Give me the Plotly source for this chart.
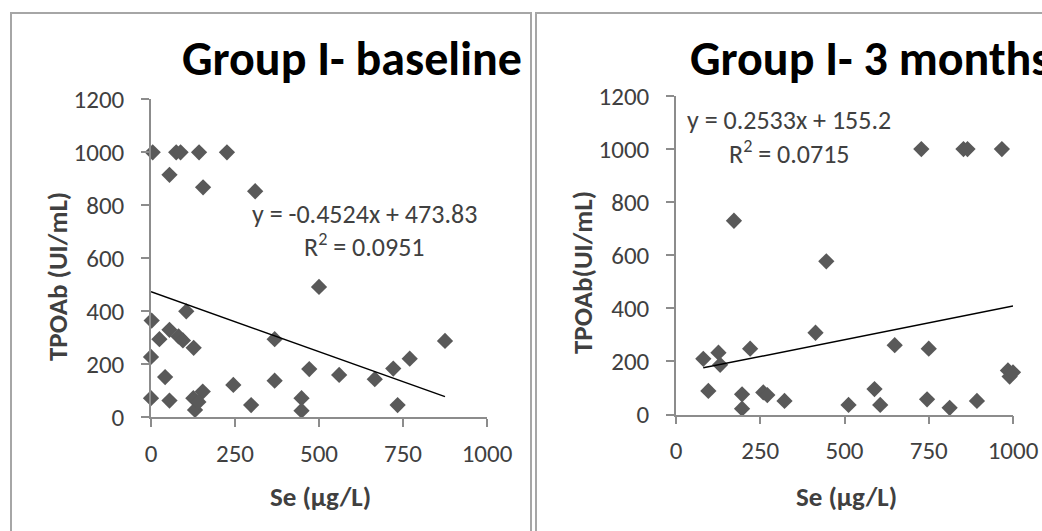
import plotly.graph_objects as go

W, H = 1042, 531

# ---------------- data ----------------
base_se = [5, 75, 88, 143, 226, 55, 155, 310, 500, 105, 2,
           25, 55, 82, 95, 127, 0, 42, 0, 55,
           126, 154, 131, 141,
           245, 298, 368, 368, 448, 448, 471, 560, 666, 721, 770, 734, 875]
base_tpo = [1000, 1000, 1000, 1000, 1000, 915, 868, 853, 492, 400, 365,
            295, 330, 305, 290, 262, 228, 152, 72, 63,
            72, 97, 28, 58,
            122, 46, 295, 138, 72, 25, 182, 160, 144, 184, 221, 46, 288]

m3_se = [81, 126, 131, 96, 172, 220, 196, 196, 259, 271, 322, 414, 446, 512,
         589, 606, 649, 728, 745, 750, 812, 853, 865, 893, 967, 985, 990, 1000]
m3_tpo = [210, 233, 187, 89, 730, 248, 76, 22, 83, 73, 51, 308, 577, 36,
          96, 36, 261, 1000, 57, 248, 25, 1000, 1000, 51, 1000, 166, 143, 159]

base_fit = (-0.4524, 473.83)
m3_fit = (0.2533, 155.2)

titles = ["Group I- baseline", "Group I- 3 months"]
eq_texts = ["y = -0.4524x + 473.83", "y = 0.2533x + 155.2"]
r2_texts = ["R<sup>2</sup> = 0.0951", "R<sup>2</sup> = 0.0715"]
y_titles = ["TPOAb (UI/mL)", "TPOAb(UI/mL)"]
x_title = "Se (µg/L)"
x_ticks = [0, 250, 500, 750, 1000]
y_ticks = [0, 200, 400, 600, 800, 1000, 1200]

FONT = "Calibri, Carlito, Lato, sans-serif"
MARK = "#595959"
AXC = "#8c8c8c"
TXT = "#404040"


def px(x):
    return x / W


def py(y):
    return 1 - y / H


fig = go.Figure()

panels = [
    dict(se=base_se, tpo=base_tpo, fit=base_fit, xd=(151, 487), yd=(417.3, 99.3), xa="x", ya="y"),
    dict(se=m3_se, tpo=m3_tpo, fit=m3_fit, xd=(676, 1013), yd=(414.5, 96), xa="x2", ya="y2"),
]

for p in panels:
    fig.add_trace(go.Scatter(
        x=p["se"], y=p["tpo"], mode="markers", xaxis=p["xa"], yaxis=p["ya"],
        marker=dict(symbol="diamond", size=12.5, color=MARK, line=dict(width=0)),
        cliponaxis=False, hoverinfo="skip"))
    a, b = p["fit"]
    xs = [min(p["se"]), max(p["se"])]
    fig.add_trace(go.Scatter(
        x=xs, y=[a * v + b for v in xs], mode="lines", xaxis=p["xa"], yaxis=p["ya"],
        line=dict(color="black", width=1.5), cliponaxis=False, hoverinfo="skip"))

axis_common = dict(showgrid=False, zeroline=False, showline=True, linecolor=AXC, linewidth=1.5,
                   ticks="outside", ticklen=8, tickwidth=1.5, tickcolor=AXC, automargin=False,
                   tickfont=dict(family=FONT, size=25, color=TXT), fixedrange=True)

layout = dict(width=W, height=H, margin=dict(l=0, r=0, t=0, b=0, pad=0, autoexpand=False),
              paper_bgcolor="white", plot_bgcolor="white", showlegend=False)

for i, p in enumerate(panels):
    sx = "" if i == 0 else "2"
    layout["xaxis" + sx] = dict(axis_common, domain=[px(p["xd"][0]), px(p["xd"][1])],
                                range=[0, 1000], tickvals=x_ticks, anchor="y" + sx,
                                ticklabelstandoff=5)
    layout["yaxis" + sx] = dict(axis_common, domain=[py(p["yd"][0]), py(p["yd"][1])],
                                range=[0, 1200], tickvals=y_ticks, anchor="x" + sx,
                                ticklabelstandoff=12)

fig.update_layout(**layout)

# frames
fig.add_shape(type="rect", xref="paper", yref="paper", x0=px(11), x1=px(531), y0=py(560), y1=py(13),
              line=dict(color="#a6a6a6", width=2), layer="below")
fig.add_shape(type="rect", xref="paper", yref="paper", x0=px(536), x1=px(1080), y0=py(560), y1=py(13),
              line=dict(color="#a6a6a6", width=2), layer="below")

ann = []
# titles
ann.append(dict(text="<b>" + titles[0] + "</b>", x=px(352), y=py(58), xanchor="center", yanchor="middle",
                font=dict(family=FONT, size=48, color="black")))
ann.append(dict(text="<b>" + titles[1] + "</b>", x=px(870), y=py(58), xanchor="center", yanchor="middle",
                font=dict(family=FONT, size=48, color="black")))
# equations
ann.append(dict(text=eq_texts[0], x=px(364), y=py(214), xanchor="center", yanchor="middle",
                font=dict(family=FONT, size=26, color=TXT)))
ann.append(dict(text=r2_texts[0], x=px(364), y=py(246), xanchor="center", yanchor="middle",
                font=dict(family=FONT, size=26, color=TXT)))
ann.append(dict(text=eq_texts[1], x=px(789), y=py(120), xanchor="center", yanchor="middle",
                font=dict(family=FONT, size=26, color=TXT)))
ann.append(dict(text=r2_texts[1], x=px(789), y=py(152), xanchor="center", yanchor="middle",
                font=dict(family=FONT, size=26, color=TXT)))
# axis titles
ann.append(dict(text="<b>" + y_titles[0] + "</b>", x=px(57), y=py(277), textangle=-90,
                xanchor="center", yanchor="middle", font=dict(family=FONT, size=27, color=TXT)))
ann.append(dict(text="<b>" + y_titles[1] + "</b>", x=px(582), y=py(273), textangle=-90,
                xanchor="center", yanchor="middle", font=dict(family=FONT, size=27, color=TXT)))
ann.append(dict(text="<b>" + x_title + "</b>", x=px(320), y=py(496), xanchor="center", yanchor="middle",
                font=dict(family=FONT, size=27, color=TXT)))
ann.append(dict(text="<b>" + x_title + "</b>", x=px(846), y=py(496), xanchor="center", yanchor="middle",
                font=dict(family=FONT, size=27, color=TXT)))

for a in ann:
    a.update(xref="paper", yref="paper", showarrow=False)
fig.update_layout(annotations=ann)

fig.write_html("out.html", config={"displayModeBar": False},
               post_script="document.body.style.margin='0';")
